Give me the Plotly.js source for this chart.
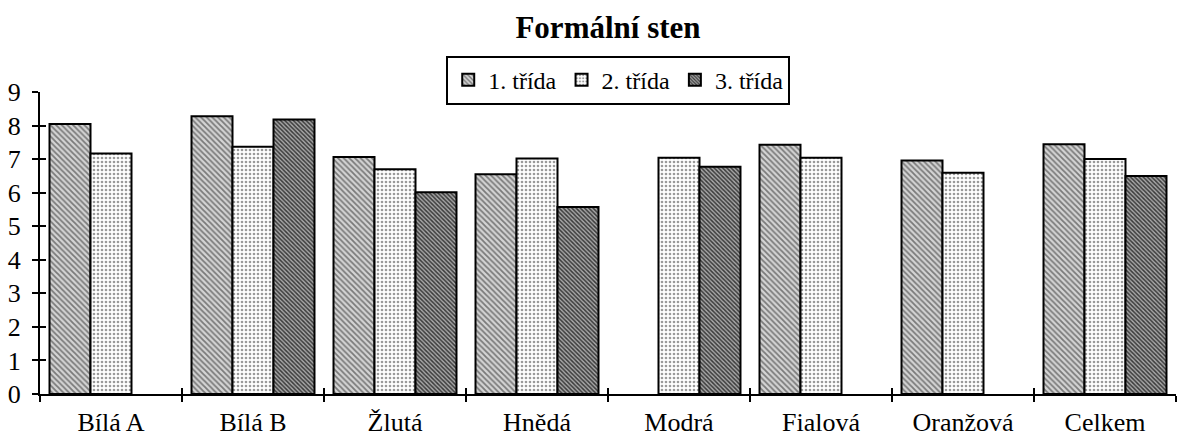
<!DOCTYPE html>
<html>
<head>
<meta charset="utf-8">
<script src="https://cdn.plot.ly/plotly-3.0.1.min.js"></script>
<style>html,body{margin:0;padding:0;background:#fff;}#chart{width:1183px;height:437px;}</style>
</head>
<body>
<div id="chart"></div>
<script>
var categories = ["Bílá A", "Bílá B", "Žlutá", "Hnědá", "Modrá", "Fialová", "Oranžová", "Celkem"];
var seriesNames = ["1. třída", "2. třída", "3. třída"];
var trida1 = [8.05, 8.28, 7.06, 6.55, null, 7.43, 6.96, 7.44];
var trida2 = [7.17, 7.37, 6.70, 7.02, 7.04, 7.04, 6.59, 7.00];
var trida3 = [null, 8.18, 6.01, 5.57, 6.77, null, null, 6.50];
var yTicks = [0, 1, 2, 3, 4, 5, 6, 7, 8, 9];

var font = "Liberation Serif, Times New Roman, serif";
var styles = [
  {shape: "\\", bg: "#d4d4d4", fg: "#7a7a7a", size: 4, solidity: 0.45},
  {shape: ".", bg: "#ffffff", fg: "#9a9a9a", size: 4, solidity: 0.35},
  {shape: "\\", bg: "#a8a8a8", fg: "#3a3a3a", size: 3, solidity: 0.5}
];
var values = [trida1, trida2, trida3];
var data = values.map(function (v, i) {
  return {
    type: "bar",
    name: seriesNames[i],
    x: categories,
    y: v,
    marker: {
      color: styles[i].bg,
      line: {color: "#000", width: 2},
      pattern: {shape: styles[i].shape, bgcolor: styles[i].bg, fgcolor: styles[i].fg, size: styles[i].size, solidity: styles[i].solidity}
    },
    hoverinfo: "x+y+name"
  };
});
// invisible trace for secondary axes (inner tick halves)
data.push({type: "scatter", x: [categories[0]], y: [0], yaxis: "y2", xaxis: "x2", mode: "none", showlegend: false, hoverinfo: "skip"});

var layout = {
  width: 1183, height: 437,
  margin: {l: 40, r: 7, t: 92, b: 43},
  paper_bgcolor: "#fff", plot_bgcolor: "#fff",
  font: {family: font, color: "#000", size: 26},
  title: {text: "<b>Formální sten</b>", font: {family: font, size: 31, color: "#000"}, x: 0.5, xref: "paper", xanchor: "center", y: 0.937, yref: "container", yanchor: "middle"},
  barmode: "group",
  bargap: 0.134,
  bargroupgap: 0,
  showlegend: true,
  legend: {
    orientation: "h", x: 0.509, xanchor: "center", y: 1.12, yanchor: "top",
    bordercolor: "#000", borderwidth: 2, bgcolor: "#fff",
    font: {family: font, size: 24, color: "#000"},
    itemwidth: 30, tracegroupgap: 0, traceorder: "normal"
  },
  xaxis: {
    type: "category", categoryorder: "array", categoryarray: categories,
    showline: true, linecolor: "#000", linewidth: 2,
    ticks: "outside", ticklen: 6, tickwidth: 1.5, tickcolor: "#000",
    tickson: "boundaries", showgrid: false, zeroline: false,
    tickfont: {family: font, size: 26, color: "#000"},
    ticklabelstandoff: 4, fixedrange: true
  },
  xaxis2: {
    type: "category", categoryorder: "array", categoryarray: categories,
    overlaying: "x", matches: "x", showline: false,
    ticks: "inside", ticklen: 6, tickwidth: 1.5, tickcolor: "#000",
    tickson: "boundaries", showticklabels: false, showgrid: false, zeroline: false
  },
  yaxis: {
    range: [0, 9], tickvals: yTicks, ticktext: yTicks.map(String),
    showline: true, linecolor: "#000", linewidth: 2,
    ticks: "outside", ticklen: 6, tickwidth: 2, tickcolor: "#000",
    showgrid: false, zeroline: false,
    tickfont: {family: font, size: 26, color: "#000"},
    ticklabelstandoff: 6, fixedrange: true
  },
  yaxis2: {
    range: [0, 9], tickvals: yTicks, overlaying: "y",
    ticks: "inside", ticklen: 6, tickwidth: 2, tickcolor: "#000",
    showticklabels: false, showgrid: false, zeroline: false, showline: false
  }
};
Plotly.newPlot("chart", data, layout, {displayModeBar: false, staticPlot: true});
</script>
</body>
</html>
